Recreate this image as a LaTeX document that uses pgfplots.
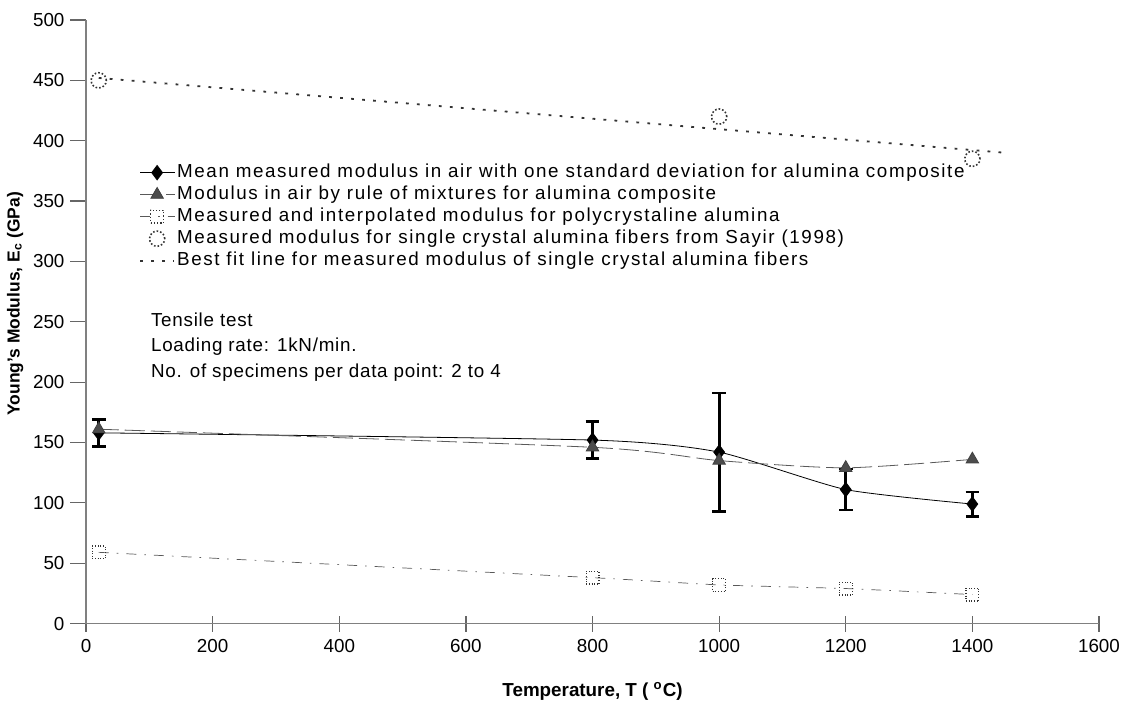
\documentclass[border=0pt]{standalone}
\usepackage{fontspec}
\setmainfont{Liberation Sans}
\newfontfamily\legfont{Liberation Sans}[LetterSpace=8.5]
\newfontfamily\notefont{Liberation Sans}[LetterSpace=4]
\usepackage{pgfplots}
\pgfplotsset{compat=1.18}
\begin{document}
\begin{tikzpicture}
\begin{axis}[
  scale only axis, width=506pt, height=301.5pt,
  xmin=0, xmax=1600, ymin=0, ymax=500,
  xtick distance=200, ytick distance=50,
  axis x line*=bottom, axis y line*=left,
  axis line style={gray, line width=0.8pt, -},
  tick style={gray!80!black, line width=0.6pt},
  x tick style={/pgfplots/major tick length=8pt}, xtick align=center,
  y tick style={/pgfplots/major tick length=8pt}, ytick align=outside,
  /pgf/number format/assume math mode=true,
  /pgf/number format/1000 sep={},
  ticklabel style={font=\fontsize{9.4}{10}\selectfont},
  xticklabel style={yshift=-2pt},
  yticklabel style={xshift=-3pt},
  xlabel={\textbf{Temperature, T ( \textsuperscript{o}C)}},
  ylabel={\textbf{Young's Modulus, E\textsubscript{c} (GPa)}},
  xlabel style={yshift=-8pt, font=\fontsize{9.4}{10}\selectfont},
  ylabel style={at={(ticklabel cs:0.53)}, yshift=-2pt, font=\fontsize{8.7}{10}\selectfont},
  legend style={draw=none, fill=none, font=\fontsize{9.4}{11}\selectfont\legfont,
    at={(0.052,0.766)}, anchor=north west, row sep=0pt,
    inner sep=0pt, nodes={inner sep=1pt, text height=7pt, text depth=2pt}},
  legend cell align=left,
  clip=false,
]
\addplot[black, line width=0.4pt, smooth, tension=0.35,
  mark=diamond*, mark size=3.6pt, mark options={solid, fill=black},
  error bars/.cd, y dir=both, y explicit,
  error bar style={line width=1.4pt, black},
  error mark options={rotate=90, mark size=3.4pt, line width=1.4pt, black}]
  coordinates {
  (20,158) +- (0,11)
  (800,152) +- (0,15.5)
  (1000,142) +- (0,49)
  (1200,111) +- (0,17)
  (1400,99) +- (0,10)
  };
\addlegendentry{Mean measured modulus in air with one standard deviation for alumina composite}
\addplot[gray!70!black, line width=0.4pt, smooth, tension=0.4, dash pattern=on 10pt off 3pt,
  mark=triangle*, mark size=3.6pt, mark options={solid, draw=black!75, fill=black!70}]
  coordinates {(20,161) (800,146) (1000,135) (1200,129) (1400,136)};
\addlegendentry{Modulus in air by rule of mixtures for alumina composite}
\addplot[gray!70!black, line width=0.35pt, smooth, tension=0.3, dash pattern=on 5pt off 4pt on 0.8pt off 4pt,
  mark=square, mark size=3.2pt, mark options={solid, densely dotted, draw=black!80, line width=0.6pt}]
  coordinates {(20,59) (800,38) (1000,32) (1200,29) (1400,24)};
\addlegendentry{Measured and interpolated modulus for polycrystaline alumina}
\addplot[only marks, mark=o, mark size=3.8pt,
  mark options={densely dotted, draw=black!80, line width=0.8pt}]
  coordinates {(20,450) (1000,420) (1400,385)};
\addlegendentry{Measured modulus for single crystal alumina fibers from Sayir (1998)}
\addplot[black!80, line width=0.9pt, dash pattern=on 1.4pt off 4.1pt, no marks]
  coordinates {(20,452) (1452,390)};
\addlegendentry{Best fit line for measured modulus of single crystal alumina fibers}
\node[anchor=north west, align=left, font=\fontsize{9.4}{12.9}\selectfont\notefont, inner sep=0pt]
  at (axis cs:102,258) {Tensile test\\Loading rate: 1kN/min.\\No. of specimens per data point: 2 to 4};
\end{axis}
\pgfresetboundingbox
\path ([xshift=-43pt, yshift=-38.5pt]current axis.south west)
  rectangle ([xshift=14pt, yshift=10pt]current axis.north east);
\end{tikzpicture}
\end{document}
